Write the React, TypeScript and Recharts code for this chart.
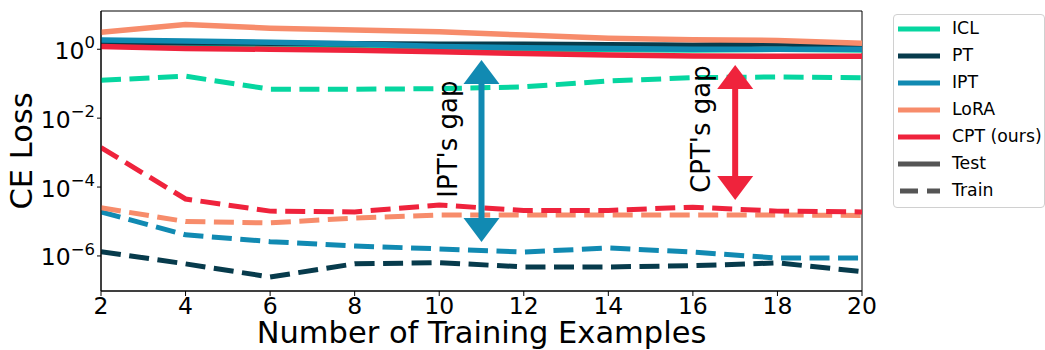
import {
  LineChart,
  Line,
  XAxis,
  YAxis,
  ReferenceLine,
  ReferenceDot,
  ReferenceArea,
  Label,
} from 'recharts';

// number of training examples (x)
const EXAMPLES = [2, 4, 6, 8, 10, 12, 14, 16, 18, 20];

// test loss (solid)
const ICL_TEST = [1.45, 1.4, 1.25, 1.15, 1.05, 1.0, 0.98, 0.95, 1.0, 0.95];
const PT_TEST = [1.6, 1.55, 1.5, 1.45, 1.4, 1.4, 1.35, 1.3, 1.45, 1.2];
const IPT_TEST = [1.85, 1.75, 1.6, 1.45, 1.2, 1.1, 1.05, 1.0, 1.0, 1.0];
const LORA_TEST = [3.1, 5.2, 4.1, 3.6, 3.2, 2.6, 2.1, 1.9, 1.8, 1.5];
const CPT_TEST = [1.2, 1.05, 1.0, 0.93, 0.84, 0.75, 0.68, 0.64, 0.63, 0.63];

// train loss (dashed)
const ICL_TRAIN = [0.126, 0.165, 0.069, 0.069, 0.072, 0.081, 0.12, 0.15, 0.157, 0.15];
const PT_TRAIN = [1.33e-6, 5.9e-7, 2.45e-7, 5.9e-7, 6.4e-7, 4.8e-7, 4.8e-7, 5.2e-7, 6.3e-7, 3.5e-7];
const IPT_TRAIN = [1.9e-5, 4.1e-6, 2.6e-6, 1.95e-6, 1.6e-6, 1.3e-6, 1.7e-6, 1.3e-6, 8.7e-7, 8.7e-7];
const LORA_TRAIN = [2.5e-5, 1.0e-5, 9.1e-6, 1.26e-5, 1.55e-5, 1.55e-5, 1.55e-5, 1.55e-5, 1.55e-5, 1.5e-5];
const CPT_TRAIN = [1.4e-3, 4.5e-5, 2.0e-5, 1.9e-5, 3.0e-5, 2.1e-5, 2.1e-5, 2.6e-5, 2.0e-5, 1.9e-5];

const X_TICKS = [2, 4, 6, 8, 10, 12, 14, 16, 18, 20];
const Y_TICKS = [1e-6, 1e-4, 1e-2, 1];

const FONT = '"DejaVu Sans", Verdana, sans-serif';

const METHODS = [
  { key: 'icl', name: 'ICL', color: '#06d6a0', test: ICL_TEST, train: ICL_TRAIN },
  { key: 'pt', name: 'PT', color: '#073b4c', test: PT_TEST, train: PT_TRAIN },
  { key: 'ipt', name: 'IPT', color: '#118ab2', test: IPT_TEST, train: IPT_TRAIN },
  { key: 'lora', name: 'LoRA', color: '#f78c6b', test: LORA_TEST, train: LORA_TRAIN },
  { key: 'cpt', name: 'CPT (ours)', color: '#ef233c', test: CPT_TEST, train: CPT_TRAIN },
];

const data = EXAMPLES.map((n, i) => {
  const row: Record<string, number> = { n };
  METHODS.forEach((m) => {
    row[m.key + '_test'] = m.test[i];
    row[m.key + '_train'] = m.train[i];
  });
  return row;
});

const LEGEND = [
  ...METHODS.map((m) => ({ name: m.name, color: m.color, dash: false })),
  { name: 'Test', color: '#555555', dash: false },
  { name: 'Train', color: '#555555', dash: true },
];

function LogTick({ x, y, payload }: any) {
  const exp = Math.round(Math.log10(payload.value));
  const sup = exp < 0 ? '\u2212' + Math.abs(exp) : String(exp);
  return (
    <text x={x} y={y} dy={9.5} textAnchor="end" fontSize={23.5} fill="#000" fontFamily={FONT}>
      10
      <tspan dy={-10.5} fontSize={16.5}>
        {sup}
      </tspan>
    </text>
  );
}

const gapArrow = (color: string) => (p: any) => {
  const x = p.x1;
  const top = Math.min(p.y1, p.y2);
  const bot = Math.max(p.y1, p.y2);
  const hl = 24;
  const hw = 18;
  return (
    <g>
      <rect x={x - 3} y={top + hl - 1} width={6} height={bot - top - 2 * hl + 2} fill={color} />
      <polygon points={`${x},${top} ${x - hw},${top + hl} ${x + hw},${top + hl}`} fill={color} />
      <polygon points={`${x},${bot} ${x - hw},${bot - hl} ${x + hw},${bot - hl}`} fill={color} />
    </g>
  );
};

const gapText = (text: string) => (p: any) => (
  <text
    x={p.cx}
    y={p.cy}
    transform={`rotate(-90 ${p.cx} ${p.cy})`}
    textAnchor="middle"
    dominantBaseline="central"
    fontSize={26}
    fill="#000"
    fontFamily={FONT}
  >
    {text}
  </text>
);

export default function App() {
  return (
    <div
      style={{
        position: 'absolute',
        left: 0,
        top: 0,
        width: 1045,
        height: 350,
        background: '#fff',
        fontFamily: FONT,
      }}
    >
      <LineChart width={1045} height={350} data={data} margin={{ top: 11, right: 183, left: 0, bottom: 0 }}>
        <XAxis
          dataKey="n"
          type="number"
          domain={[2, 20]}
          ticks={X_TICKS}
          allowDataOverflow
          height={59}
          tickSize={5}
          tickMargin={1}
          axisLine={{ stroke: '#000' }}
          tickLine={{ stroke: '#000' }}
          tick={{ fontSize: 23.5, fill: '#000', fontFamily: FONT }}
        >
          <Label
            value="Number of Training Examples"
            position="insideBottom"
            offset={7}
            style={{ fontSize: 30.5, fill: '#000', fontFamily: FONT }}
          />
        </XAxis>
        <YAxis
          type="number"
          scale="log"
          domain={[9.6e-8, 12.9]}
          allowDataOverflow
          ticks={Y_TICKS}
          width={101}
          tickSize={4}
          tickMargin={2}
          axisLine={{ stroke: '#000' }}
          tickLine={{ stroke: '#000' }}
          tick={<LogTick />}
        >
          <Label
            content={(p: any) => {
              const vb = p.viewBox;
              const cx = vb.x + 32;
              const cy = vb.y + vb.height / 2;
              return (
                <text
                  x={cx}
                  y={cy}
                  transform={`rotate(-90 ${cx} ${cy})`}
                  textAnchor="middle"
                  fontSize={30.5}
                  fill="#000"
                  fontFamily={FONT}
                >
                  CE Loss
                </text>
              );
            }}
          />
        </YAxis>

        {METHODS.map((m) => [
          <Line
            key={m.key + '_test'}
            dataKey={m.key + '_test'}
            type="linear"
            stroke={m.color}
            strokeWidth={5.5}
            dot={false}
            activeDot={false}
            isAnimationActive={false}
          />,
          <Line
            key={m.key + '_train'}
            dataKey={m.key + '_train'}
            type="linear"
            stroke={m.color}
            strokeWidth={5}
            strokeDasharray="20 8.5"
            dot={false}
            activeDot={false}
            isAnimationActive={false}
          />,
        ])}

        <ReferenceArea x1={2} x2={20} y1={9.6e-8} y2={12.9} fill="none" stroke="#000" strokeWidth={1} ifOverflow="visible" />

        <ReferenceLine
          segment={[
            { x: 11, y: 0.49 },
            { x: 11, y: 2.56e-6 },
          ]}
          ifOverflow="visible"
          shape={gapArrow('#118ab2')}
        />
        <ReferenceLine
          segment={[
            { x: 17, y: 0.35 },
            { x: 17, y: 4.2e-5 },
          ]}
          ifOverflow="visible"
          shape={gapArrow('#ef233c')}
        />
        <ReferenceDot x={10.2} y={2.46e-3} r={0} ifOverflow="visible" shape={gapText("IPT's gap")} />
        <ReferenceDot x={16.2} y={4.8e-3} r={0} ifOverflow="visible" shape={gapText("CPT's gap")} />
      </LineChart>

      <div
        style={{
          position: 'absolute',
          left: 893,
          top: 14,
          width: 152,
          height: 194,
          border: '1px solid #d0d0d0',
          borderRadius: 4,
          boxSizing: 'border-box',
          background: 'rgba(255,255,255,0.8)',
        }}
      >
        {LEGEND.map((e, i) => (
          <div
            key={e.name}
            style={{
              position: 'absolute',
              left: 4,
              top: i * 27,
              height: 27,
              display: 'flex',
              alignItems: 'center',
              whiteSpace: 'nowrap',
            }}
          >
            <svg width={42} height={6} style={{ display: 'block' }}>
              <line
                x1={e.dash ? 2 : 0}
                y1={3}
                x2={42}
                y2={3}
                stroke={e.color}
                strokeWidth={5}
                strokeDasharray={e.dash ? '18 9' : undefined}
              />
            </svg>
            <span style={{ marginLeft: 12, fontSize: 17.3, color: '#000', lineHeight: '27px' }}>{e.name}</span>
          </div>
        ))}
      </div>
    </div>
  );
}
